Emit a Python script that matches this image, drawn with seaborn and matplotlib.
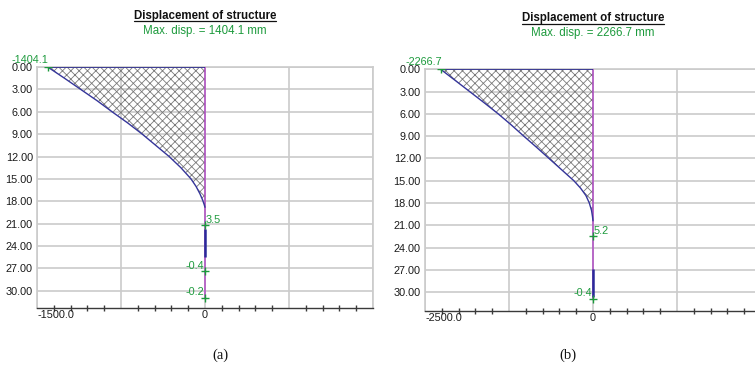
import matplotlib
matplotlib.use("Agg")
import matplotlib.pyplot as plt
import seaborn as sns
from matplotlib.lines import Line2D
from matplotlib.ticker import MultipleLocator, FixedLocator

# ---------------- data ----------------
left_depth = [0, 1.5, 3, 4.5, 6, 7.5, 9, 10.5, 12, 13.5, 15, 16, 17, 17.8, 18.4, 18.8]
left_disp = [-1404.1, -1255, -1110, -965, -830, -690, -560, -440, -320, -215, -125,
             -80, -45, -22, -8, 0]
left_mark_depth = [0, 21.2, 27.4, 30.9]
left_mark_disp = [-1404.1, 3.5, -0.4, -0.2]
left_mark_labels = ["-1404.1", "3.5", "-0.4", "-0.2"]
left_seg = [21.7, 25.4]
left_max = "1404.1"

right_depth = [0, 1.5, 3, 4.5, 6, 7.5, 9, 10.5, 12, 13.5, 15, 16, 17, 18, 19, 19.8, 20.4]
right_disp = [-2266.7, -2050, -1835, -1620, -1410, -1215, -1030, -840, -655, -470, -285,
              -185, -105, -55, -22, -8, 0]
right_mark_depth = [0, 22.5, 30.9]
right_mark_disp = [-2266.7, 5.2, -0.4]
right_mark_labels = ["-2266.7", "5.2", "-0.4"]
right_seg = [26.9, 30.6]
right_max = "2266.7"

depth_ticks = [0, 3, 6, 9, 12, 15, 18, 21, 24, 27, 30]
title_text = "Displacement of structure"
captions = ["(a)", "(b)"]

# ---------------- style ----------------
sns.set_theme(style="white")
plt.rcParams["font.family"] = ["Liberation Sans", "DejaVu Sans"]
plt.rcParams["hatch.linewidth"] = 0.6

GRID = "#cbcbcb"
GREEN = "#1c9a3c"
NAVY = "#35359a"
PURPLE = "#b04cc4"
HATCH = "#7a7a7a"

fig = plt.figure(figsize=(7.55, 3.65), dpi=100)

panels = [
    dict(pos=[37/755, 57/365, 336/755, 241/365], ymax=32.3, xr=1500, major=750,
         depth=left_depth, disp=left_disp, md=left_mark_depth, mx=left_mark_disp,
         ml=left_mark_labels, seg=left_seg, mx_text=left_max, left_label="-1500.0",
         ty=15.7, sy=30.7, cap_x=220),
    dict(pos=[425/755, 54.3/365, 336/755, 241.4/365], ymax=32.5, xr=2500, major=1250,
         depth=right_depth, disp=right_disp, md=right_mark_depth, mx=right_mark_disp,
         ml=right_mark_labels, seg=right_seg, mx_text=right_max, left_label="-2500.0",
         ty=18.3, sy=33.3, cap_x=568),
]

titles = []
for i, p in enumerate(panels):
    ax = fig.add_axes(p["pos"])
    ax.set_xlim(-p["xr"], p["xr"])
    ax.set_ylim(p["ymax"], 0)

    # grid
    ax.yaxis.set_major_locator(FixedLocator(depth_ticks))
    ax.set_yticklabels([f"{v:.2f}" for v in depth_ticks], color="#1a1a1a", fontsize=7.8)
    ax.tick_params(axis="y", length=0, pad=3)
    ax.xaxis.set_major_locator(MultipleLocator(p["major"]))
    ax.xaxis.set_minor_locator(MultipleLocator(p["major"] / 5))
    ax.grid(True, which="major", color=GRID, linewidth=1.2)
    ax.set_axisbelow(True)
    for s in ["left", "right", "top"]:
        ax.spines[s].set_color(GRID)
        ax.spines[s].set_linewidth(1.2)
    ax.spines["bottom"].set_color("#3a3a3a")
    ax.spines["bottom"].set_linewidth(1.0)
    ax.tick_params(axis="x", which="major", direction="inout", length=10, width=1.1,
                   color="#3a3a3a", labelbottom=False)
    ax.tick_params(axis="x", which="minor", direction="inout", length=5, width=1.0,
                   color="#3a3a3a", bottom=True)
    ax.set_xlabel("")
    ax.set_ylabel("")

    # x labels
    ax.annotate(p["left_label"], xy=(-p["xr"], 0), xycoords=("data", "axes fraction"),
                xytext=(0.5, -5.2), textcoords="offset points", ha="left", va="center",
                fontsize=7.8, color="#1a1a1a")
    ax.annotate("0", xy=(0, 0), xycoords=("data", "axes fraction"),
                xytext=(0, -5.2), textcoords="offset points", ha="center", va="center",
                fontsize=7.8, color="#1a1a1a")

    # hatched area
    ax.fill_betweenx(p["depth"], p["disp"], 0, facecolor="none", edgecolor=HATCH,
                     hatch="xxxx", linewidth=0, zorder=2)
    # zero line
    ax.vlines(0, 0, max(p["md"]), color=PURPLE, linewidth=1.1, zorder=3)
    # top line
    ax.hlines(p["depth"][0], p["disp"][0], 0, color="#24248a", linewidth=1.2, zorder=4)
    # curve
    sns.lineplot(x=p["disp"], y=p["depth"], sort=False, orient="y", estimator=None,
                 color=NAVY, linewidth=1.0, ax=ax, zorder=4)
    # lower segment
    ax.vlines(0, p["seg"][0], p["seg"][1], color="#2a2a9a", linewidth=1.8, zorder=4)

    # markers
    sns.scatterplot(x=p["mx"], y=p["md"], marker="+", s=40, linewidth=1.0,
                    color=GREEN, ax=ax, zorder=5, legend=False)
    for k, (xv, yv, lab) in enumerate(zip(p["mx"], p["md"], p["ml"])):
        val = float(lab)
        if k == 0:
            off, ha = (0.8, 5.3), "right"
        elif val > 0:
            off, ha = (0.5, 4.0), "left"
        else:
            off, ha = (-0.5, 4.0), "right"
        ax.annotate(lab, xy=(xv, yv), xytext=off, textcoords="offset points",
                    ha=ha, va="center", fontsize=7.8, color=GREEN, zorder=6,
                    annotation_clip=False)

    cx = (p["pos"][0] + p["pos"][0] + p["pos"][2]) / 2
    t = fig.text(cx, 1 - p["ty"] / 365, title_text, ha="center", va="center",
                 fontsize=8.3, fontweight="bold", color="#111111")
    titles.append(t)
    fig.text(cx, 1 - p["sy"] / 365, f"Max. disp. = {p['mx_text']} mm", ha="center",
             va="center", fontsize=8.3, color=GREEN)
    fig.text(p["cap_x"] / 755, 1 - 355 / 365, captions[i], ha="center", va="center",
             fontsize=10.5, family=["Liberation Serif", "DejaVu Serif"], color="#111111")

# underline the titles
fig.canvas.draw()
r = fig.canvas.get_renderer()
for t in titles:
    bb = t.get_window_extent(renderer=r)
    y = bb.y0 + 0.5
    fig.add_artist(Line2D([bb.x0 / 755, bb.x1 / 755], [y / 365, y / 365],
                          transform=fig.transFigure, color="#111111", linewidth=0.9))

fig.savefig("out.png", dpi=100)
